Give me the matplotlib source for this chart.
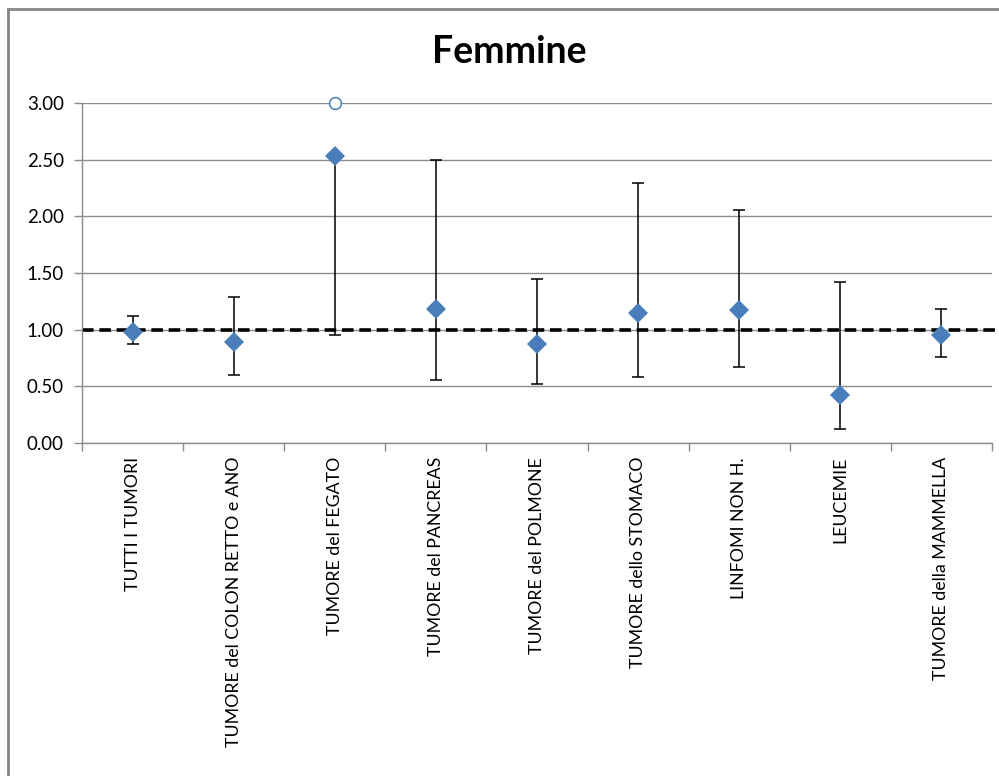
import matplotlib.pyplot as plt
from matplotlib.lines import Line2D

plt.rcParams['font.family'] = ['Lato', 'DejaVu Sans']

categories = ["TUTTI I TUMORI", "TUMORE del COLON RETTO e ANO", "TUMORE del FEGATO",
              "TUMORE del PANCREAS", "TUMORE del POLMONE", "TUMORE dello STOMACO",
              "LINFOMI NON H.", "LEUCEMIE", "TUMORE della MAMMELLA"]
rr = [0.98, 0.89, 2.53, 1.18, 0.87, 1.15, 1.17, 0.42, 0.95]
lower = [0.87, 0.60, 0.95, 0.56, 0.52, 0.58, 0.67, 0.12, 0.76]
# upper limit of FEGATO is off the scale, shown by the marker at the top
upper = [1.12, 1.29, 2.53, 2.50, 1.45, 2.29, 2.06, 1.42, 1.18]
off_scale = [None, None, 3.00, None, None, None, None, None, None]
reference_level = 1.0

blue = "#4a7ebb"
grid_gray = "#8c8c8c"

fig = plt.figure(figsize=(9.99, 7.76), dpi=100)
ax = fig.add_axes([82/999, 1 - 443/776, (992 - 82)/999, (443 - 103)/776])

x = list(range(len(categories)))
err = [[r - lo for r, lo in zip(rr, lower)], [up - r for r, up in zip(rr, upper)]]

# dashed reference line runs a little past the plot area on the right
ax.plot([-0.5, len(categories) - 0.43], [reference_level] * 2, color="black",
        lw=2.6, ls=(0, (3.2, 1.6)), zorder=2, clip_on=False)
ax.errorbar(x, rr, yerr=err, fmt="none", ecolor="black", elinewidth=1.1,
            capsize=4, capthick=1.1, zorder=3)
ax.plot(x, rr, "D", color=blue, ms=10.5, zorder=4, markeredgewidth=0)
ox = [i for i, v in zip(x, off_scale) if v is not None]
oy = [v for v in off_scale if v is not None]
ax.plot(ox, oy, "o", mfc="white", mec=blue, ms=8.5, mew=1.1, zorder=5, clip_on=False)

ax.set_xlim(-0.5, len(categories) - 0.5)
ax.set_ylim(0, 3)
ax.set_yticks([0, 0.5, 1.0, 1.5, 2.0, 2.5, 3.0])
ax.set_yticklabels([f"{v:.2f}" for v in ax.get_yticks()], fontsize=13.5)
ax.yaxis.grid(True, color=grid_gray, lw=1.0)
ax.set_axisbelow(True)

ax.set_xticks(x)
ax.set_xticklabels(categories, rotation=90, fontsize=12.8)
ax.set_xticks([i + 0.5 for i in range(-1, len(categories))], minor=True)
ax.tick_params(axis="x", which="major", length=0, pad=10)
ax.tick_params(axis="x", which="minor", length=6, color=grid_gray, width=1.0)
ax.tick_params(axis="y", length=6, color=grid_gray, width=1.0, pad=7)

for side in ["top", "right"]:
    ax.spines[side].set_visible(False)
for side in ["left", "bottom"]:
    ax.spines[side].set_color(grid_gray)
    ax.spines[side].set_linewidth(1.0)

# chart frame: left and top edges
fy = 1 - 9/776
fx = 7.5/999
fig.add_artist(Line2D([fx, fx], [0, fy], transform=fig.transFigure,
                      color="#868686", lw=2.0, solid_capstyle="projecting"))
fig.add_artist(Line2D([fx, 1], [fy, fy], transform=fig.transFigure,
                      color="#868686", lw=2.0, solid_capstyle="projecting"))

fig.text(509/999, 1 - 52/776, "Femmine", ha="center", va="center",
         fontsize=27, fontweight="bold")

fig.savefig("out.png", dpi=100)
